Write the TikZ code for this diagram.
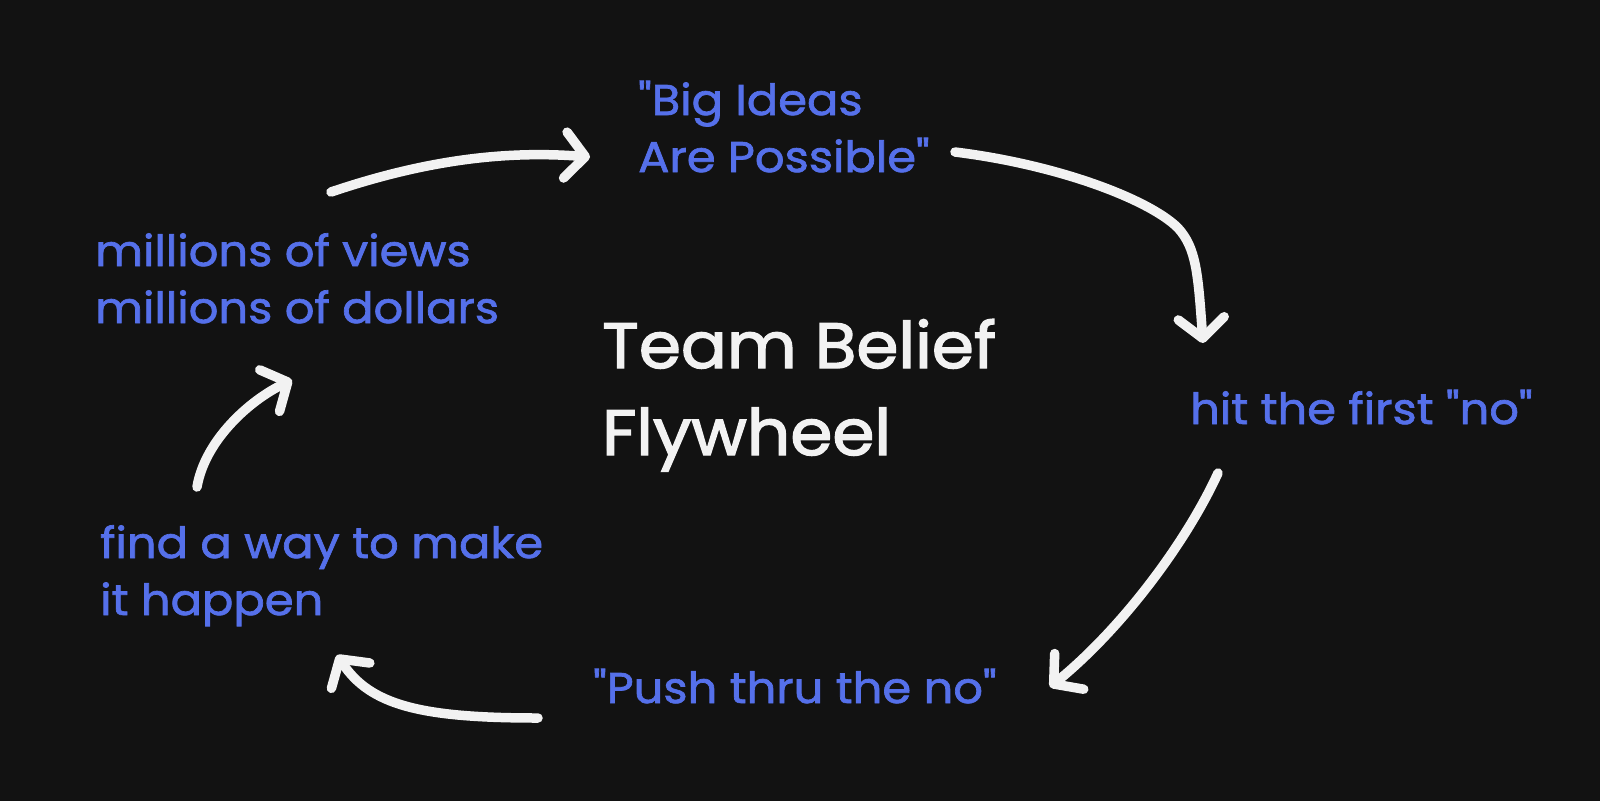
\documentclass[tikz,border=0pt]{standalone}
\usepackage{fontspec}
\setmainfont{Poppins}
\newfontfamily\lblfont{Poppins}[FakeBold=1.6,FakeStretch=1.08]
\newfontfamily\ttlfont{Poppins}[FakeBold=2.2,FakeStretch=1.06]
\newcommand\dq{\symbol{34}}
\usetikzlibrary{arrows.meta}
\definecolor{bg}{HTML}{121212}
\definecolor{ink}{HTML}{5570EA}
\definecolor{chalk}{HTML}{F2F2F2}
\begin{document}
\begin{tikzpicture}[x=1pt,y=-1pt,
  lbl/.style={text=ink, font=\lblfont\fontsize{43}{57}\selectfont, anchor=base west, inner sep=0pt, align=left},
  ttl/.style={text=chalk, font=\ttlfont\fontsize{64}{87}\selectfont, anchor=base west, inner sep=0pt, align=left},
  flow/.style={draw=chalk, line width=9.5pt, line cap=round, line join=round,
    -{Straight Barb[round,length=20pt,width=46pt]}}]
\fill[bg] (0,0) rectangle (1600,801);
\useasboundingbox (0,0) rectangle (1600,801);

\node[lbl] (big) at (638,172) {\dq Big Ideas\\Are Possible\dq};
\node[lbl] (mil) at (95,323) {millions of views\\millions of dollars};
\node[ttl] (team) at (602,455) {Team Belief\\Flywheel};
\node[lbl] (hit) at (1190,424) {hit the first \dq no\dq};
\node[lbl] (find) at (100,615) {find a way to make\\it happen};
\node[lbl] (push) at (593,703) {\dq Push thru the no\dq};

\coordinate (a1s) at (331,192);
\coordinate (a1e) at (590,157);
\coordinate (a2s) at (955,152);
\coordinate (a2e) at (1203,343);
\coordinate (a3s) at (1218,473);
\coordinate (a3e) at (1050,687);
\coordinate (a4s) at (538,718);
\coordinate (a4e) at (337,655);
\coordinate (a5s) at (197,487);
\coordinate (a5e) at (292,380);

\draw[flow] (a1s) .. controls (420,162) and (500,150) .. (a1e);
\draw[flow] (a2s) .. controls (1060,165) and (1150,200) .. (1178,228)
  .. controls (1196,248) and (1198,272) .. (a2e);
\draw[flow] (a3s) .. controls (1185,545) and (1120,630) .. (a3e);
\draw[flow] (a4s) .. controls (420,718) and (370,705) .. (a4e);
\draw[flow] (a5s) .. controls (205,440) and (250,400) .. (a5e);
\end{tikzpicture}
\end{document}
